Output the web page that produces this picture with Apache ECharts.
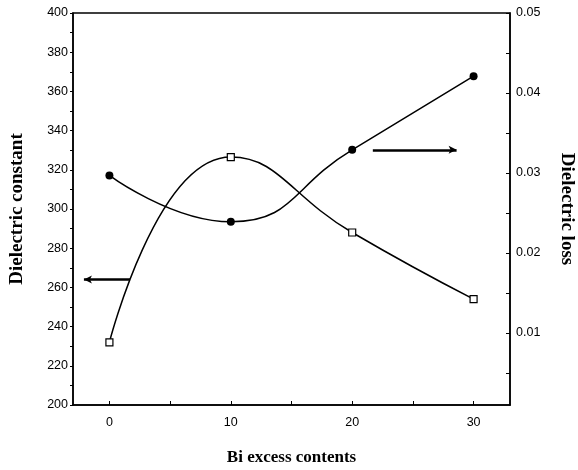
<!DOCTYPE html>
<html><head><meta charset="utf-8">
<script src="https://cdn.jsdelivr.net/npm/echarts@6/dist/echarts.min.js"></script>
<style>html,body{margin:0;padding:0;background:#fff}#c{width:578px;height:470px}</style>
</head><body><div id="c"></div>
<script>
const biContent = [0, 10, 20, 30];
const dielectricConstant = [232, 326.5, 288, 254];
const dielectricLoss = [0.0297, 0.0239, 0.0329, 0.0421];
const xTickLabels = [0, 10, 20, 30];
const xTicks = [0, 5, 10, 15, 20, 25, 30];
const lossTickLabels = [0.01, 0.02, 0.03, 0.04, 0.05];
const lossTicks = [0.005, 0.01, 0.015, 0.02, 0.025, 0.03, 0.035, 0.04, 0.045, 0.05];

const chart = echarts.init(document.getElementById('c'));
const tickFont = {color:'#000', fontFamily:'Liberation Sans, Arial', fontSize:12.5};
const titleFont = {color:'#000', fontFamily:'Liberation Serif, Times New Roman', fontWeight:'bold', fontSize:19};
chart.setOption({
  animation:false,
  grid:{left:73, right:68, top:13, bottom:65, show:true, borderColor:'#000', borderWidth:1.5,
        containLabel:false, outerBoundsMode:'none'},
  xAxis:{type:'value', min:-3, max:33,
    name:'Bi excess contents', nameLocation:'middle', nameGap:44,
    nameTextStyle:Object.assign({}, titleFont, {fontSize:17}),
    axisLine:{onZero:false, lineStyle:{color:'#000', width:1.5}},
    axisTick:{inside:true, length:4, customValues:xTicks, lineStyle:{color:'#000'}},
    axisLabel:Object.assign({customValues:xTickLabels, margin:11}, tickFont),
    splitLine:{show:false}},
  yAxis:[
    {type:'value', min:200, max:400, interval:20,
     name:'Dielectric constant', nameLocation:'middle', nameGap:46, nameRotate:90,
     nameTextStyle:titleFont,
     axisLine:{show:true, onZero:false, lineStyle:{color:'#000', width:1.5}},
     axisTick:{inside:false, length:3, lineStyle:{color:'#000'}},
     minorTick:{show:true, splitNumber:2, length:3, lineStyle:{color:'#000'}},
     axisLabel:Object.assign({margin:5}, tickFont),
     splitLine:{show:false}},
    {type:'value', min:0.001, max:0.05, position:'right',
     name:'Dielectric loss', nameLocation:'middle', nameGap:47, nameRotate:-90,
     nameTextStyle:titleFont,
     axisLine:{show:true, onZero:false, lineStyle:{color:'#000', width:1.5}},
     axisTick:{show:true, inside:true, length:4, customValues:lossTicks, lineStyle:{color:'#000'}},
     axisLabel:Object.assign({customValues:lossTickLabels, margin:6, formatter:v=>v.toFixed(2)}, tickFont),
     splitLine:{show:false}}
  ],
  series:[
    {type:'line', yAxisIndex:0, smooth:0.5,
     data:biContent.map((x,i)=>[x, dielectricConstant[i]]),
     symbol:'rect', symbolSize:7,
     itemStyle:{color:'#fff', borderColor:'#000', borderWidth:1.2},
     lineStyle:{color:'#000', width:1.5},
     markLine:{silent:true, symbol:['none','arrow'], symbolSize:[6,8], label:{show:false},
       lineStyle:{color:'#000', width:2.5, type:'solid'},
       data:[[{coord:[1.7, 264]}, {coord:[-2.1, 264]}]]}},
    {type:'line', yAxisIndex:1, smooth:0.5,
     data:biContent.map((x,i)=>[x, dielectricLoss[i]]),
     symbol:'circle', symbolSize:8,
     itemStyle:{color:'#000'},
     lineStyle:{color:'#000', width:1.5},
     markLine:{silent:true, symbol:['none','arrow'], symbolSize:[6,8], label:{show:false},
       lineStyle:{color:'#000', width:2.5, type:'solid'},
       data:[[{coord:[21.7, 0.0329]}, {coord:[28.6, 0.0329]}]]}}
  ]
});
</script></body></html>
